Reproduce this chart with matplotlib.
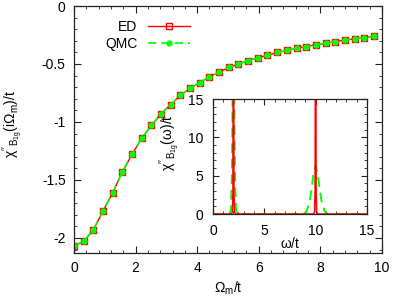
import matplotlib
matplotlib.use("Agg")
import matplotlib.pyplot as plt
from matplotlib.ticker import MultipleLocator

plt.rcParams['font.family'] = ['Liberation Sans', 'DejaVu Sans']
plt.rcParams['mathtext.fontset'] = 'custom'
plt.rcParams['mathtext.rm'] = 'Liberation Sans'
plt.rcParams['mathtext.it'] = 'Liberation Sans'
plt.rcParams['mathtext.bf'] = 'Liberation Sans:bold'

# Matsubara frequencies Omega_m/t and chi''(i Omega_m)/t
omega_m = [0.0, 0.314, 0.628, 0.942, 1.257, 1.571, 1.885, 2.199, 2.513, 2.827,
           3.142, 3.456, 3.770, 4.084, 4.398, 4.712, 5.027, 5.341, 5.655, 5.969,
           6.283, 6.597, 6.912, 7.226, 7.540, 7.854, 8.168, 8.482, 8.796, 9.111,
           9.425, 9.739]
chi_ed = [-2.07, -2.03, -1.93, -1.77, -1.61, -1.43, -1.28, -1.14, -1.03, -0.93,
          -0.85, -0.77, -0.71, -0.66, -0.61, -0.57, -0.53, -0.50, -0.47, -0.446,
          -0.426, -0.40, -0.383, -0.365, -0.35, -0.333, -0.322, -0.307, -0.293,
          -0.284, -0.272, -0.26]
chi_qmc = [-2.07, -2.03, -1.93, -1.77, -1.61, -1.43, -1.28, -1.14, -1.03, -0.93,
           -0.85, -0.77, -0.71, -0.66, -0.61, -0.57, -0.53, -0.50, -0.47, -0.446,
           -0.426, -0.40, -0.383, -0.365, -0.35, -0.333, -0.322, -0.307, -0.293,
           -0.284, -0.272, -0.26]

# inset: real-frequency spectra chi''(omega)/t
w_ed = [0, 1.8, 1.9, 1.95, 2.0, 2.05, 2.1, 2.2, 2.35, 2.45, 2.55, 2.7,
        9.8, 9.9, 9.95, 10.0, 10.05, 10.1, 10.2, 15]
s_ed = [0, 0, 0.3, 3.0, 40, 3.0, 0.3, 0, 0, 0.15, 0, 0,
        0, 0.3, 3.0, 40, 3.0, 0.3, 0, 0]
w_qmc = [0, 1.6, 1.75, 1.85, 1.95, 2.0, 2.05, 2.15, 2.25, 2.4,
         8.8, 9.1, 9.4, 9.6, 9.8, 10.0, 10.2, 10.4, 10.6, 10.9, 11.2, 15]
s_qmc = [0, 0, 0.5, 5.0, 20, 25, 20, 5.0, 0.5, 0,
         0, 0.3, 1.5, 3.2, 5.3, 6.3, 5.3, 3.2, 1.5, 0.3, 0, 0]

red = '#ff0000'
green = '#00ff00'

fig = plt.figure(figsize=(3.95, 3.01), dpi=100)
ax = fig.add_axes([0.1873, 0.1595, 0.7797, 0.8205])

ax.plot(omega_m, chi_ed, color=red, lw=1.0, marker='s', ms=4.5,
        mfc='none', mec=red, mew=1.0, label='ED')
ax.plot(omega_m, chi_qmc, color=green, lw=1.2, dashes=(5, 3), marker='o',
        ms=3.5, mfc=green, mec=green, label='QMC')

ax.set_xlim(0, 10)
ax.set_ylim(-2.13, 0)
ax.xaxis.set_major_locator(MultipleLocator(2))
ax.xaxis.set_minor_locator(MultipleLocator(0.4))
ax.yaxis.set_major_locator(MultipleLocator(0.5))
ax.yaxis.set_minor_locator(MultipleLocator(0.1))
ax.set_yticks([0, -0.5, -1, -1.5, -2])
ax.set_yticklabels(['0', '-0.5', '-1', '-1.5', '-2'])
ax.tick_params(which='both', direction='in', top=True, right=True,
               labelsize=10, pad=6, color='#222222')
ax.tick_params(which='major', length=5, width=0.8)
ax.tick_params(which='minor', length=2.5, width=0.6)
for sp in ax.spines.values():
    sp.set_linewidth(0.9)
    sp.set_color('#222222')

leg = ax.legend(loc='upper left', bbox_to_anchor=(0.06, 0.995), frameon=False,
                markerfirst=False, fontsize=10, handlelength=3.0,
                handletextpad=0.8, labelspacing=0.2)
for t in leg.get_texts():
    t.set_ha('right')

fig.text(13 / 395, 1 - 124 / 301, r"$\chi''_{\mathrm{B}_{1g}}(i\Omega_m)/t$",
         rotation=90, ha='center', va='center', fontsize=10)
fig.text(228 / 395, 1 - 288 / 301, r"$\Omega_m/t$",
         ha='center', va='center', fontsize=10)

# inset
ins = fig.add_axes([0.539, 0.289, 0.390, 0.382])
ins.plot(w_qmc, s_qmc, color=green, lw=1.4, dashes=(5, 3))
ins.plot(w_ed, s_ed, color=red, lw=1.1)
ins.set_xlim(0, 15)
ins.set_ylim(0, 15)
ins.xaxis.set_major_locator(MultipleLocator(5))
ins.xaxis.set_minor_locator(MultipleLocator(1))
ins.yaxis.set_major_locator(MultipleLocator(5))
ins.yaxis.set_minor_locator(MultipleLocator(1))
ins.tick_params(which='both', direction='in', top=True, right=True,
                labelsize=10, pad=7, color='#222222')
ins.tick_params(which='major', length=4, width=0.8)
ins.tick_params(which='minor', length=2, width=0.6)
for sp in ins.spines.values():
    sp.set_linewidth(0.9)
    sp.set_color('#222222')

fig.text(170 / 395, 1 - 143 / 301, r"$\chi''_{\mathrm{B}_{1g}}(\omega)/t$",
         rotation=90, ha='center', va='center', fontsize=10)
fig.text(290 / 395, 1 - 243 / 301, r"$\omega/t$",
         ha='center', va='center', fontsize=10)

fig.savefig('out.png', dpi=100)
